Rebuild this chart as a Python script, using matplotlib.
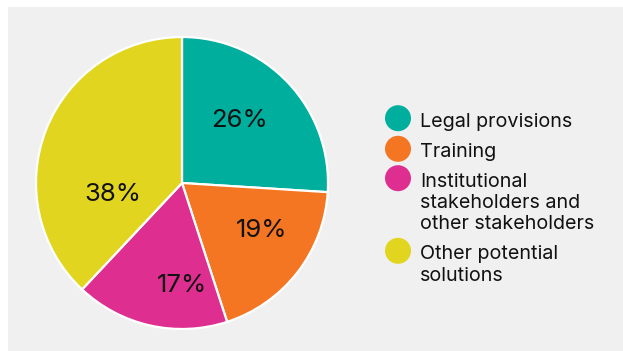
import matplotlib.pyplot as plt
from matplotlib.patches import Rectangle

plt.rcParams['font.family'] = ['Inter', 'DejaVu Sans']

# share of answers per type of solution
labels = ["Legal provisions", "Training",
          "Institutional\nstakeholders and\nother stakeholders",
          "Other potential\nsolutions"]
shares = [26, 19, 17, 38]
colors = ["#00ae9d", "#f47522", "#de2e90", "#e1d51f"]

W, H = 623, 351
fig = plt.figure(figsize=(W / 100, H / 100), dpi=100)
fig.patch.set_facecolor("white")

# grey panel behind everything
fig.patches.append(Rectangle((8 / W, 0), 1 - 8 / W, 1 - 7 / H,
                             transform=fig.transFigure, facecolor="#f0f0f0",
                             edgecolor="none", zorder=-10))

# pie, centre (182, 183) px, radius 146 px
cx, cy, r = 182, 183, 146
ax = fig.add_axes([(cx - r) / W, (H - cy - r) / H, 2 * r / W, 2 * r / H])
wedges, _ = ax.pie(shares, colors=colors, startangle=90, counterclock=False,
                   radius=1, wedgeprops=dict(edgecolor="white", linewidth=1.6))
ax.set_xlim(-1, 1)
ax.set_ylim(-1, 1)
ax.axis("off")

# percentage labels, baseline positions set by hand inside each slice
label_pos = [(0.397, 0.384), (0.548, -0.370), (0.0, -0.747), (-0.473, -0.123)]
for (x, y), s in zip(label_pos, shares):
    ax.text(x, y, f"{s}%", ha="center", va="baseline", fontsize=18.5,
            color="#111111")

# legend drawn in pixel coordinates
lg = fig.add_axes([0, 0, 1, 1])
lg.set_xlim(0, W)
lg.set_ylim(H, 0)
lg.axis("off")
first_baseline = [126.7, 157.3, 186.7, 259.3]
pitch = 21.3
for b, lab, c in zip(first_baseline, labels, colors):
    lg.scatter([398], [b - 8.5], s=(26 * 0.72) ** 2, color=c,
               edgecolors="none")
    for i, line in enumerate(lab.split("\n")):
        lg.text(420, b + i * pitch, line, ha="left", va="baseline",
                fontsize=14.2, color="#111111")

fig.savefig("out.png", dpi=100)
